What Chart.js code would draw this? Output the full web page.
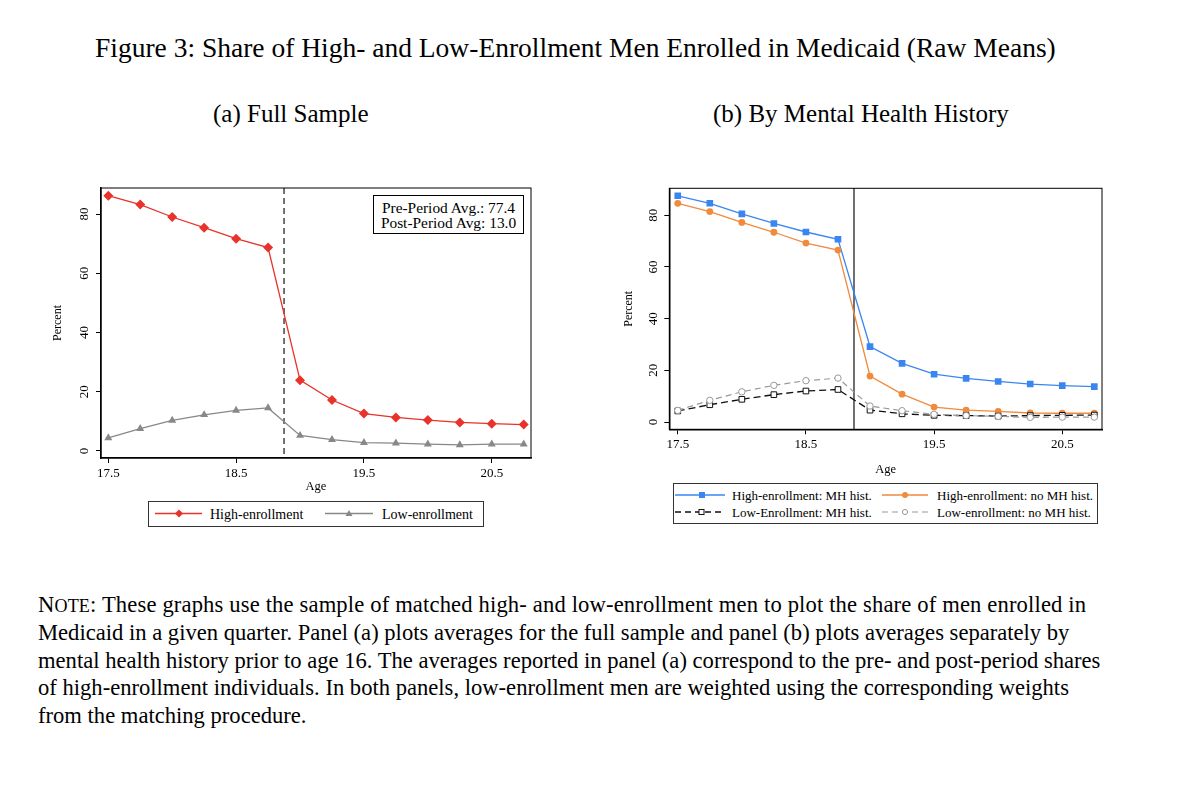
<!DOCTYPE html>
<html>
<head>
<meta charset="utf-8">
<script src="https://cdn.jsdelivr.net/npm/chart.js@4.4.1/dist/chart.umd.min.js"></script>
<style>
    body { margin: 0; background: #fff; width: 1200px; height: 794px; position: relative; overflow: hidden;
           font-family: "Liberation Serif", "Times New Roman", serif; color: #000; }
    .abs { position: absolute; white-space: nowrap; }
    .avgbox { border: 1.5px solid #000; font-size: 15.4px; line-height: 15px; text-align: center; padding: 4px 0 3px; background: #fff; }
    .note { font-size: 22.6px; line-height: 27.8px; }
    .note .sc { font-size: 80%; line-height: 1; }
</style>
</head>
<body>

<div class="abs" style="left:95px; top:32px; font-size:27.5px;">Figure 3: Share of High- and Low-Enrollment Men Enrolled in Medicaid (Raw Means)</div>
<div class="abs" style="left:213px; top:100px; font-size:25px;">(a) Full Sample</div>
<div class="abs" style="left:713px; top:100px; font-size:25px;">(b) By Mental Health History</div>

<div class="abs" style="left:40px; top:180px;"><canvas id="chartA" width="510" height="320"></canvas></div>
<div class="abs" style="left:610px; top:180px;"><canvas id="chartB" width="510" height="300"></canvas></div>

<div class="abs avgbox" style="left:373px; top:195px; width:149px;">Pre-Period Avg.: 77.4<br>Post-Period Avg: 13.0</div>

<!-- leyenda panel (a) -->
<svg class="abs" style="left:148px; top:501px;" width="337" height="27" font-family="Liberation Serif, Times New Roman, serif" font-size="14">
    <rect x="0.5" y="0.5" width="335" height="25" fill="#fff" stroke="#333" stroke-width="1"/>
    <line x1="7" y1="12.5" x2="54" y2="12.5" stroke="#e8322a" stroke-width="1.3"/>
    <polygon points="31,8.5 35,12.5 31,16.5 27,12.5" fill="#e8322a"/>
    <text x="62" y="17.5">High-enrollment</text>
    <line x1="177" y1="12.5" x2="225" y2="12.5" stroke="#888" stroke-width="1.3"/>
    <polygon points="201,9 204.5,15 197.5,15" fill="#888"/>
    <text x="234" y="17.5">Low-enrollment</text>
</svg>

<!-- leyenda panel (b) -->
<svg class="abs" style="left:673px; top:483px;" width="427" height="42" font-family="Liberation Serif, Times New Roman, serif" font-size="13">
    <rect x="0.5" y="0.5" width="424" height="40" fill="#fff" stroke="#333" stroke-width="1"/>
    <line x1="2" y1="12" x2="52" y2="12" stroke="#3a86f0" stroke-width="1.3"/>
    <rect x="26" y="9" width="6" height="6" fill="#3a86f0"/>
    <text x="59" y="16.5">High-enrollment: MH hist.</text>
    <line x1="209" y1="12" x2="255" y2="12" stroke="#f08a3c" stroke-width="1.3"/>
    <circle cx="232" cy="12" r="3" fill="#f08a3c"/>
    <text x="264" y="16.5">High-enrollment: no MH hist.</text>
    <line x1="2" y1="29" x2="52" y2="29" stroke="#111" stroke-width="1.3" stroke-dasharray="6,4"/>
    <rect x="26" y="26.5" width="5" height="5" fill="#fff" stroke="#111" stroke-width="1"/>
    <text x="59" y="33.5">Low-Enrollment: MH hist.</text>
    <line x1="209" y1="29" x2="255" y2="29" stroke="#999" stroke-width="1.2" stroke-dasharray="6,4"/>
    <circle cx="232" cy="29" r="2.6" fill="#fff" stroke="#999" stroke-width="1"/>
    <text x="264" y="33.5">Low-enrollment: no MH hist.</text>
</svg>

<div class="abs note" style="left:38px; top:591px;"><span style="letter-spacing:0.15px">N<span class="sc">OTE</span>: These graphs use the sample of matched high- and low-enrollment men to plot the share of men enrolled in</span><br>Medicaid in a given quarter. Panel (a) plots averages for the full sample and panel (b) plots averages separately by<br>mental health history prior to age 16. The averages reported in panel (a) correspond to the pre- and post-period shares<br>of high-enrollment individuals. In both panels, low-enrollment men are weighted using the corresponding weights<br>from the matching procedure.</div>

<script>
// --- DATOS ---
const ages = [17.5, 17.75, 18, 18.25, 18.5, 18.75, 19, 19.25, 19.5, 19.75, 20, 20.25, 20.5, 20.75];
const highAll  = [86.2, 83.2, 79.0, 75.4, 71.7, 68.7, 23.9, 17.2, 12.6, 11.3, 10.4, 9.6, 9.2, 8.9];
const lowAll   = [4.4, 7.5, 10.3, 12.2, 13.7, 14.5, 5.2, 3.8, 2.8, 2.6, 2.3, 2.0, 2.3, 2.3];
const highMH   = [87.5, 84.6, 80.5, 76.8, 73.5, 70.7, 29.2, 22.7, 18.5, 16.9, 15.7, 14.7, 14.1, 13.7];
const highNoMH = [84.6, 81.4, 77.2, 73.4, 69.2, 66.5, 17.8, 10.8, 5.8, 4.6, 4.1, 3.5, 3.4, 3.4];
const lowMH    = [4.3, 6.7, 8.8, 10.6, 12.0, 12.6, 4.6, 3.2, 2.6, 2.5, 2.3, 2.5, 2.6, 2.7];
const lowNoMH  = [4.5, 8.4, 11.7, 14.2, 16.0, 17.0, 6.2, 4.4, 3.0, 2.5, 2.2, 1.8, 1.9, 1.9];
const xTicks = [17.5, 18.5, 19.5, 20.5];
const yTicks = [0, 20, 40, 60, 80];
const cutoffAge = 18.875;

const FONT = "Liberation Serif, Times New Roman, serif";
const toPoints = vals => ages.map((a, i) => ({ x: a, y: vals[i] }));

// marco estilo Stata, linea de corte y etiquetas Y rotadas
const stataPlugin = {
    id: 'stata',
    beforeDatasetsDraw(chart, args, opts) {
        const { ctx, chartArea: a } = chart;
        const x = chart.scales.x.getPixelForValue(cutoffAge);
        ctx.save();
        ctx.strokeStyle = opts.cutColor; ctx.lineWidth = opts.cutWidth;
        ctx.setLineDash(opts.cutDash);
        ctx.beginPath(); ctx.moveTo(x, a.top); ctx.lineTo(x, a.bottom); ctx.stroke();
        ctx.restore();
    },
    afterDraw(chart, args, opts) {
        const { ctx, chartArea: a } = chart;
        const y = chart.scales.y;
        ctx.save();
        ctx.strokeStyle = '#000'; ctx.lineWidth = 1;
        ctx.strokeRect(a.left, a.top, a.right - a.left, a.bottom - a.top);
        ctx.fillStyle = '#000'; ctx.font = '13px ' + FONT;
        ctx.textAlign = 'center'; ctx.textBaseline = 'middle';
        yTicks.forEach(v => {
            ctx.save();
            ctx.translate(a.left - 16, y.getPixelForValue(v));
            ctx.rotate(-Math.PI / 2);
            ctx.fillText(String(v), 0, 0);
            ctx.restore();
        });
        ctx.restore();
    }
};

function makeScales(o) {
    const grid = { drawOnChartArea: false, drawTicks: true, tickLength: 5, color: '#000', lineWidth: 1 };
    return {
        x: {
            type: 'linear', min: o.xMin, max: o.xMax,
            afterBuildTicks: s => { s.ticks = xTicks.map(v => ({ value: v })); },
            afterFit: s => { s.height = o.xHeight; },
            ticks: { color: '#000', font: { family: FONT, size: 13 }, padding: o.xPad, maxRotation: 0, autoSkip: false,
                     callback: v => v.toFixed(1) },
            grid: grid, border: { color: '#000', width: 1.5 },
            title: { display: true, text: 'Age', color: '#000', font: { family: FONT, size: 12.5 },
                     padding: { top: 0, bottom: o.ageBottom } }
        },
        y: {
            min: o.yMin, max: o.yMax,
            afterBuildTicks: s => { s.ticks = yTicks.map(v => ({ value: v })); },
            afterFit: s => { s.width = o.yWidth; },
            ticks: { display: false },
            grid: grid, border: { color: '#000', width: 1.5 },
            title: { display: true, text: 'Percent', color: '#000', font: { family: FONT, size: 12 },
                     padding: { top: o.pctTop, bottom: 0 } }
        }
    };
}

function baseOptions(o, cut) {
    return {
        responsive: false, animation: false, devicePixelRatio: 1,
        layout: { padding: { top: o.top, right: o.right, left: 0, bottom: 0 } },
        plugins: { legend: { display: false }, tooltip: { enabled: false }, stata: cut },
        elements: { line: { tension: 0, borderWidth: 1.3 } },
        scales: makeScales(o)
    };
}

// --- PANEL (a) ---
new Chart(document.getElementById('chartA'), {
    type: 'line',
    data: {
        datasets: [
            { label: 'High-enrollment', data: toPoints(highAll), borderColor: '#e8322a', backgroundColor: '#e8322a',
              pointStyle: 'rectRot', pointRadius: 5, pointBorderWidth: 0 },
            { label: 'Low-enrollment', data: toPoints(lowAll), borderColor: '#888', backgroundColor: '#888',
              pointStyle: 'triangle', pointRadius: 4.6, pointBorderWidth: 0 }
        ]
    },
    options: baseOptions(
        { xMin: 17.443, xMax: 20.807, yMin: -2.4, yMax: 88.8, top: 8, right: 19, xHeight: 42, yWidth: 61,
          xPad: 3, ageBottom: 6, pctTop: 11 },
        { cutColor: '#444', cutWidth: 1.5, cutDash: [6, 4] }),
    plugins: [stataPlugin]
});

// --- PANEL (b) ---
new Chart(document.getElementById('chartB'), {
    type: 'line',
    data: {
        datasets: [
            { label: 'Low-enrollment: no MH hist.', data: toPoints(lowNoMH), borderColor: '#999', backgroundColor: '#fff',
              borderDash: [6, 4], borderWidth: 1.2, pointStyle: 'circle', pointRadius: 3.2, pointBorderWidth: 1, pointBorderColor: '#999' },
            { label: 'Low-Enrollment: MH hist.', data: toPoints(lowMH), borderColor: '#111', backgroundColor: '#fff',
              borderDash: [7, 4], borderWidth: 1.3, pointStyle: 'rect', pointRadius: 4, pointBorderWidth: 1, pointBorderColor: '#111' },
            { label: 'High-enrollment: no MH hist.', data: toPoints(highNoMH), borderColor: '#f08a3c', backgroundColor: '#f08a3c',
              pointStyle: 'circle', pointRadius: 3.4, pointBorderWidth: 0 },
            { label: 'High-enrollment: MH hist.', data: toPoints(highMH), borderColor: '#3a86f0', backgroundColor: '#3a86f0',
              pointStyle: 'rect', pointRadius: 4.7, pointBorderWidth: 0 }
        ]
    },
    options: baseOptions(
        { xMin: 17.434, xMax: 20.81, yMin: -2.8, yMax: 90.4, top: 8.3, right: 18, xHeight: 50.7, yWidth: 59.3,
          xPad: 2, ageBottom: 3, pctTop: 12 },
        { cutColor: '#111', cutWidth: 1.2, cutDash: [] }),
    plugins: [stataPlugin]
});
</script>
</body>
</html>
